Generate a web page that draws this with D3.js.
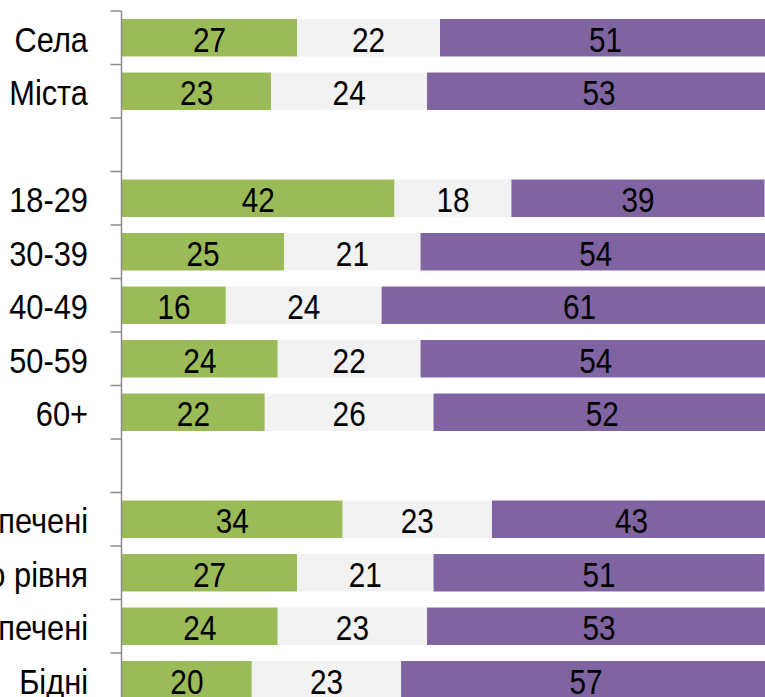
<!DOCTYPE html>
<html>
<head>
<meta charset="utf-8">
<script src="https://cdn.jsdelivr.net/npm/d3@7"></script>
<style>
  html, body { margin: 0; padding: 0; background: #ffffff; overflow: hidden; }
  svg { display: block; }
  text { font-family: "Liberation Sans Narrow", "Arial Narrow", "Liberation Sans", Arial, sans-serif; }
</style>
</head>
<body>
<svg id="chart" width="765" height="697"></svg>
<script>
// ---- data ----
const categories = ["Села", "Міста", "", "18-29", "30-39", "40-49", "50-59", "60+", " ", "Забезпечені", "Середнього рівня", "Малозабезпечені", "Бідні"];
const seriesNames = ["Так", "Важко сказати", "Ні"];
const greenValues  = [27, 23, null, 42, 25, 16, 24, 22, null, 34, 27, 24, 20];
const grayValues   = [22, 24, null, 18, 21, 24, 22, 26, null, 23, 21, 23, 23];
const purpleValues = [51, 53, null, 39, 54, 61, 54, 52, null, 43, 51, 53, 57];
const colors = ["#9BBB59", "#F2F2F2", "#8064A2"];

const svg = d3.select("#chart");
const W = 765, H = 697;
const FS = 35;

const x = d3.scaleLinear().domain([0, 100]).range([122, 771]);
const y = d3.scaleBand().domain(categories).range([11, 706.5]).paddingInner(0.3).paddingOuter(0.15);

const rows = categories.map((c, i) => ({
  cat: c,
  vals: [greenValues[i], grayValues[i], purpleValues[i]]
})).filter(r => r.vals[0] !== null);

const segs = [];
rows.forEach(r => {
  let acc = 0;
  r.vals.forEach((v, k) => {
    segs.push({cat: r.cat, k, v, x0: acc, x1: acc + v});
    acc += v;
  });
});

svg.append("g").selectAll("rect").data(segs).join("rect")
  .attr("x", d => x(d.x0))
  .attr("width", d => x(d.x1) - x(d.x0))
  .attr("y", d => y(d.cat))
  .attr("height", y.bandwidth())
  .attr("fill", d => colors[d.k]);

svg.append("g").selectAll("text").data(segs).join("text")
  .attr("transform", d => `translate(${(x(d.x0) + x(d.x1)) / 2},${y(d.cat) + y.bandwidth() / 2}) scale(0.85,1)`)
  .attr("dy", "0.4em")
  .attr("text-anchor", "middle")
  .attr("font-size", FS)
  .attr("fill", "#000")
  .text(d => d.v);

// axis
const axisX = 121.5;
const step = y.step();
const inner = step * y.paddingInner();
const tickYs = categories.map(c => y(c) - inner / 2).concat([y(categories[categories.length - 1]) + y.bandwidth() + inner / 2]);
const ax = svg.append("g");
ax.append("line").attr("x1", axisX).attr("x2", axisX)
  .attr("y1", tickYs[0]).attr("y2", H + 20)
  .attr("stroke", "#8c8c8c").attr("stroke-width", 1.5);
ax.selectAll("line.tick").data(tickYs).join("line").attr("class", "tick")
  .attr("x1", axisX - 11).attr("x2", axisX)
  .attr("y1", d => d).attr("y2", d => d)
  .attr("stroke", "#8c8c8c").attr("stroke-width", 1.5);

ax.selectAll("text").data(categories.filter(c => c.trim() !== "")).join("text")
  .attr("transform", d => `translate(88,${y(d) + y.bandwidth() / 2}) scale(0.88,1)`)
  .attr("dy", "0.4em")
  .attr("text-anchor", "end")
  .attr("font-size", FS)
  .attr("fill", "#000")
  .text(d => d);
</script>
</body>
</html>
